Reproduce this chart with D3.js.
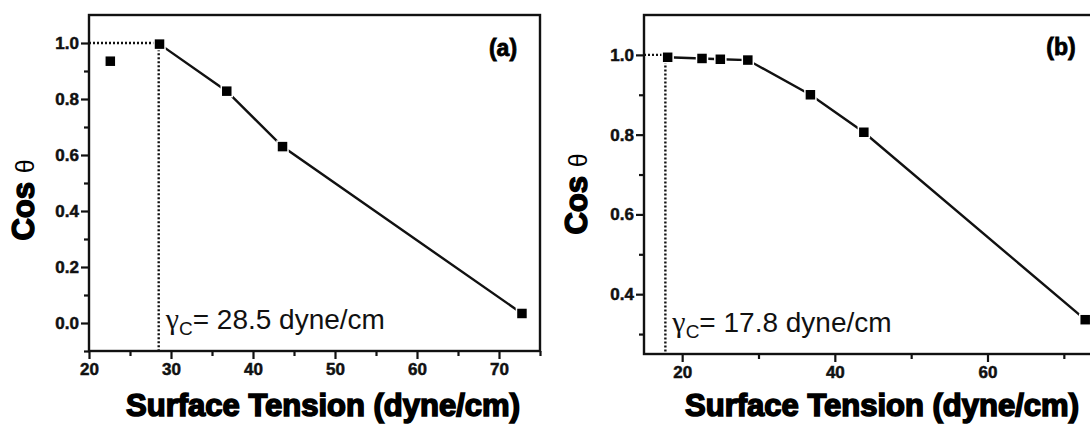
<!DOCTYPE html>
<html>
<head>
<meta charset="utf-8">
<script src="https://cdn.jsdelivr.net/npm/d3@7"></script>
<style>
body{margin:0;background:#fff;}
svg{display:block;}
.tick text{font-family:"Liberation Sans",Arial,sans-serif;font-weight:bold;font-size:17px;fill:#111;stroke:#111;stroke-width:0.5px;}
.axis path,.axis line{stroke:#111;stroke-width:2.2;}
</style>
</head>
<body>
<div id="plot"></div>
<script>
// panel (a) data
var tensionA = [22.6, 28.6, 36.8, 43.6, 72.8];
var cosA = [0.935, 0.996, 0.828, 0.630, 0.034];
var gammaA = 28.5;

// panel (b) data
var tensionB = [18.1, 22.6, 25.0, 28.6, 36.8, 43.8, 72.8];
var cosB = [0.994, 0.991, 0.989, 0.987, 0.900, 0.806, 0.336];
var gammaB = 17.8;

// ticks
var xTicksA = [20, 30, 40, 50, 60, 70], xMinorA = [25, 35, 45, 55, 65, 75];
var yTicksA = [0.0, 0.2, 0.4, 0.6, 0.8, 1.0], yMinorA = [-0.1, 0.1, 0.3, 0.5, 0.7, 0.9];
var xTicksB = [20, 40, 60], xMinorB = [30, 50, 70];
var yTicksB = [0.4, 0.6, 0.8, 1.0], yMinorB = [0.3, 0.5, 0.7, 0.9];

var svg = d3.select('#plot').append('svg')
	.attr('width', 1090)
	.attr('height', 429);

function panel(o){
	var x = d3.scaleLinear().domain(o.xDom).range([o.l, o.r]);
	var y = d3.scaleLinear().domain(o.yDom).range([o.b, o.t]);
	var g = svg.append('g');

	// frame
	g.append('rect')
		.attr('x', o.l).attr('y', o.t)
		.attr('width', o.r - o.l).attr('height', o.b - o.t)
		.attr('fill', 'none').attr('stroke', '#111').attr('stroke-width', 2.4);

	// minor ticks
	g.append('g').attr('class','axis').attr('transform','translate(0,'+o.b+')')
		.call(d3.axisBottom(x).tickValues(o.xMinor).tickSize(5).tickFormat('').tickSizeOuter(0))
		.select('.domain').remove();
	g.append('g').attr('class','axis').attr('transform','translate('+o.l+',0)')
		.call(d3.axisLeft(y).tickValues(o.yMinor).tickSize(5).tickFormat('').tickSizeOuter(0))
		.select('.domain').remove();

	// major ticks
	var xa = g.append('g').attr('class','axis').attr('transform','translate(0,'+o.b+')')
		.call(d3.axisBottom(x).tickValues(o.xTicks).tickSize(8).tickPadding(4).tickFormat(d3.format('d')).tickSizeOuter(0));
	xa.select('.domain').remove();
	var ya = g.append('g').attr('class','axis').attr('transform','translate('+o.l+',0)')
		.call(d3.axisLeft(y).tickValues(o.yTicks).tickSize(8).tickPadding(2).tickFormat(d3.format('.1f')).tickSizeOuter(0));
	ya.select('.domain').remove();

	// dotted guide lines
	g.append('path')
		.attr('d', 'M'+x(o.xDom[0])+','+y(1)+'H'+x(o.gamma)+'V'+y(o.yDom[0]))
		.attr('fill','none').attr('stroke','#111').attr('stroke-width',2.4)
		.attr('stroke-dasharray','2,2');

	// connecting line
	var pts = o.xs.map(function(d,i){ return [d, o.ys[i]]; });
	var linePts = pts.slice(o.lineFrom);
	g.append('path')
		.datum(linePts)
		.attr('d', d3.line().x(function(d){return x(d[0]);}).y(function(d){return y(d[1]);}))
		.attr('fill','none').attr('stroke','#111').attr('stroke-width',2.4);

	// square markers
	g.selectAll('rect.pt').data(pts).enter().append('rect')
		.attr('class','pt')
		.attr('x', function(d){return x(d[0]) - 5.5;})
		.attr('y', function(d){return y(d[1]) - 5.5;})
		.attr('width', 11).attr('height', 11)
		.attr('fill','#000').attr('stroke','#fff').attr('stroke-width',1.5);

	// panel label
	g.append('text')
		.attr('x', o.labX).attr('y', o.labY)
		.attr('text-anchor','middle')
		.style('font-family','"Liberation Sans",Arial,sans-serif')
		.style('font-weight','bold').style('font-size','23px')
		.attr('stroke','#000').attr('stroke-width',0.8)
		.text(o.label);

	// gamma annotation
	var t = g.append('text')
		.attr('x', x(o.gamma) + 7).attr('y', o.b - 22)
		.style('font-family','"Liberation Sans",Arial,sans-serif')
		.style('font-size','28px').attr('fill','#111');
	t.append('tspan').style('font-family','"Liberation Serif",serif').style('font-size','30px').text('γ');
	t.append('tspan').attr('dy', 6).style('font-size','19px').text('C');
	t.append('tspan').attr('dy', -6).text('= ' + o.gamma + ' dyne/cm');

	// axis titles
	g.append('text')
		.attr('x', o.titleX).attr('y', 416)
		.attr('text-anchor','middle')
		.style('font-family','"Liberation Sans",Arial,sans-serif')
		.style('font-weight','bold').style('font-size','31px')
		.attr('stroke','#000').attr('stroke-width',1.6)
		.text('Surface Tension (dyne/cm)');

	var yt = g.append('text')
		.attr('transform','translate('+o.yTitleX+','+o.yTitleY+') rotate(-90)')
		.attr('text-anchor','middle')
		.style('font-family','"Liberation Sans",Arial,sans-serif')
		.style('font-size','31px');
	yt.append('tspan').style('font-weight','bold').attr('stroke','#000').attr('stroke-width',1.4).text('Cos ');
	yt.append('tspan').style('font-size','25px').text('θ');
}

panel({
	xs: tensionA, ys: cosA, gamma: gammaA, lineFrom: 1,
	xDom: [20, 75], yDom: [-0.1, 1.1],
	l: 89, r: 540, t: 15, b: 351,
	xTicks: xTicksA, xMinor: xMinorA, yTicks: yTicksA, yMinor: yMinorA,
	label: '(a)', labX: 503, labY: 56,
	titleX: 323, yTitleX: 34, yTitleY: 200
});

panel({
	xs: tensionB, ys: cosB, gamma: gammaB, lineFrom: 0,
	xDom: [15, 75], yDom: [0.25, 1.1],
	l: 644, r: 1102, t: 15, b: 354,
	xTicks: xTicksB, xMinor: xMinorB, yTicks: yTicksB, yMinor: yMinorB,
	label: '(b)', labX: 1061, labY: 55,
	titleX: 882, yTitleX: 587, yTitleY: 194
});
</script>
</body>
</html>
